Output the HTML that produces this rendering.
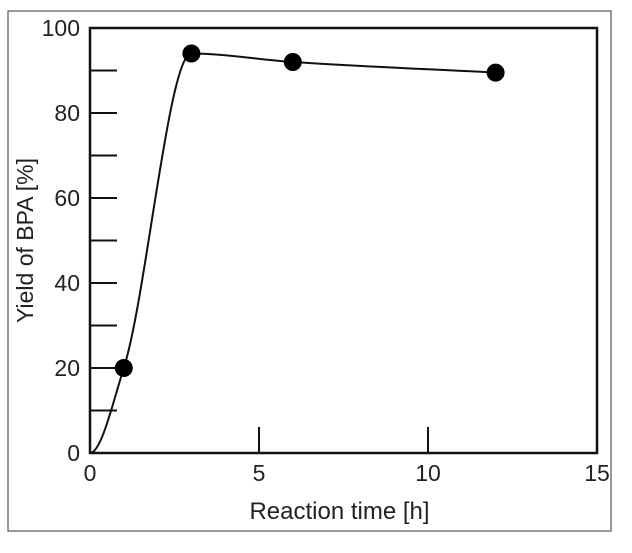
<!DOCTYPE html>
<html><head><meta charset="utf-8"><style>
body{margin:0;background:#fff}
svg{display:block}
text{font-family:"Liberation Sans",Arial,sans-serif;fill:#222}
</style></head><body>
<svg width="632" height="553">
<rect x="8" y="11" width="603" height="520" fill="#fff" stroke="#555" stroke-width="1.2"/>
<g id="axes"></g>
<g id="marks"></g>
</svg>
<script>
const xTicks=[0,5,10,15];
const yTicks=[0,20,40,60,80,100];
const yMinor=[10,30,50,70,90];
const times=[1,3,6,12];
const yields=[20,94,92,89.5];
const L=90,R=597,T=28,B=453;
const xs=v=>L+(v-0)/(15-0)*(R-L);
const ys=v=>B-(v-0)/(100-0)*(B-T);
const NS='http://www.w3.org/2000/svg';
const ax=document.getElementById('axes'),mk=document.getElementById('marks');
function el(t,a,p){const e=document.createElementNS(NS,t);for(const k in a)e.setAttribute(k,a[k]);p.appendChild(e);return e;}
const box=el('rect',{x:L,y:T,width:R-L,height:B-T,fill:'none',stroke:'#111','stroke-width':2.5},ax);


yTicks.concat(yMinor).forEach(v=>{const l=el('line',{x1:L,x2:L+27,y1:ys(v),y2:ys(v),stroke:'#111','stroke-width':2},ax);

});
yTicks.forEach(v=>{const t=el('text',{x:L-10,y:ys(v)+8,'text-anchor':'end','font-size':23},ax);t.textContent=v;

});
xTicks.forEach(v=>{if(v>0&&v<15){const l=el('line',{x1:xs(v),x2:xs(v),y1:B,y2:B-26,stroke:'#111','stroke-width':2},ax);

}
const t=el('text',{x:xs(v),y:B+28,'text-anchor':'middle','font-size':23},ax);t.textContent=v;

});
const xt=el('text',{x:(L+R)/2-4,y:519,'text-anchor':'middle','font-size':24},ax);xt.textContent='Reaction time [h]';


const yt=el('text',{x:0,y:0,'text-anchor':'middle','font-size':23,transform:`translate(33,${(T+B)/2}) rotate(-90)`},ax);yt.textContent='Yield of BPA [%]';


// monotone cubic (Fritsch-Carlson) through origin + data
const px=[xs(0)].concat(times.map(xs)), py=[ys(0)].concat(yields.map(ys));
const n=px.length, dl=[], m=[];
for(let i=0;i<n-1;i++)dl.push((py[i+1]-py[i])/(px[i+1]-px[i]));
m[0]=0;
for(let i=1;i<n-1;i++){m[i]=(dl[i-1]*dl[i]<=0)?0:(3*(dl[i-1]+dl[i]))/( (2*dl[i]+dl[i-1])/dl[i-1]*0+ (dl[i-1]+dl[i])/dl[i-1]*0+ 0 ) ;
 const w1=2*(px[i+1]-px[i])+(px[i]-px[i-1]), w2=(px[i+1]-px[i])+2*(px[i]-px[i-1]);
 m[i]=(dl[i-1]*dl[i]<=0)?0:(w1+w2)/(w1/dl[i-1]+w2/dl[i]);}
m[n-1]=dl[n-2];
let d=`M${px[0]},${py[0]}`;
for(let i=0;i<n-1;i++){const h=(px[i+1]-px[i])/3;
d+=` C${px[i]+h},${py[i]+m[i]*h} ${px[i+1]-h},${py[i+1]-m[i+1]*h} ${px[i+1]},${py[i+1]}`;}
const path=el('path',{d:d,fill:'none',stroke:'#111','stroke-width':2},mk);


times.forEach((t,i)=>{const c=el('circle',{cx:xs(t),cy:ys(yields[i]),r:9,fill:'#000'},mk);

});
</script>
</body></html>
